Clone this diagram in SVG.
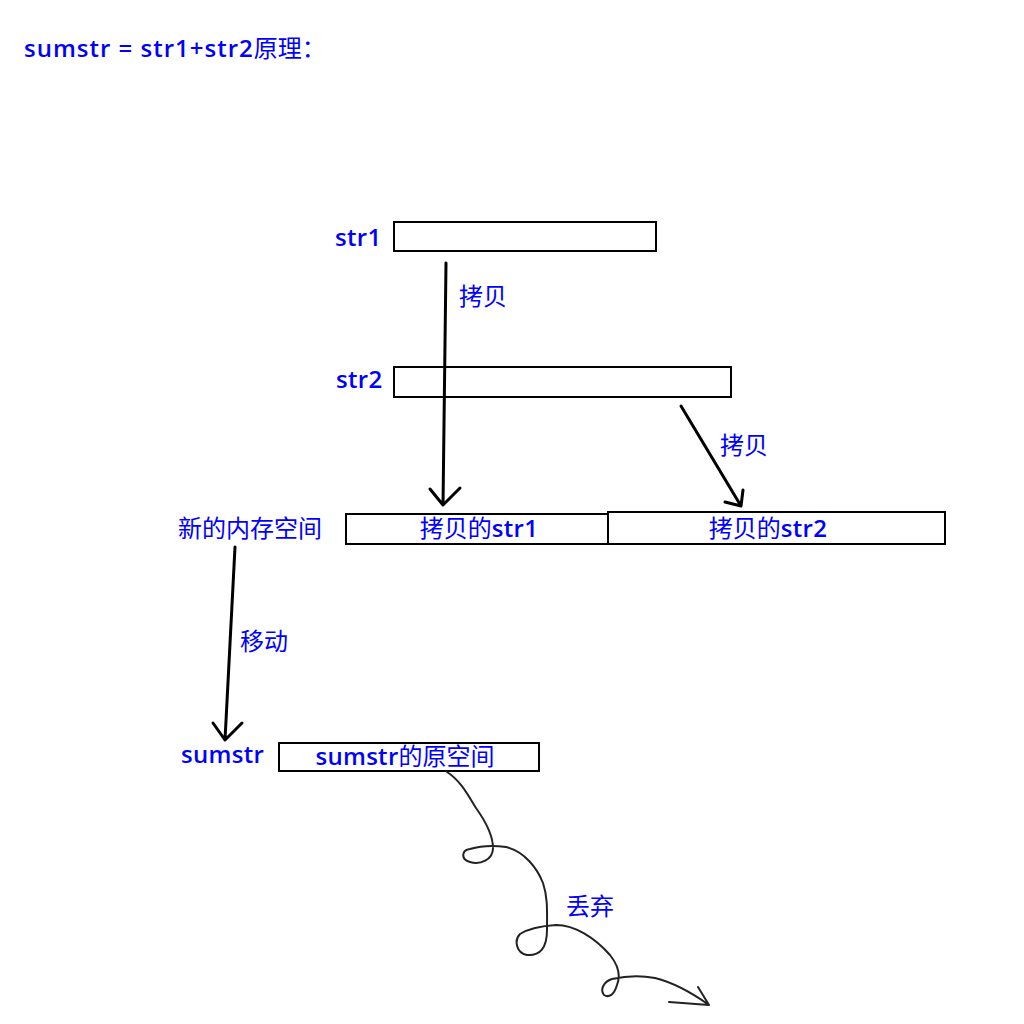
<svg xmlns="http://www.w3.org/2000/svg" width="1024" height="1024" viewBox="0 0 1024 1024">
<style>
text{font-family:"Noto Sans CJK SC",sans-serif;fill:#0000ff;font-size:24px}
.l{font-family:"Open Sans","Noto Sans CJK SC",sans-serif;font-weight:600;font-size:24px;letter-spacing:0.3px}
.box{fill:#fff;stroke:#000;stroke-width:2}
.ln{fill:none;stroke:#000;stroke-width:3;stroke-linecap:round;stroke-linejoin:round}
.curl{fill:none;stroke:#222;stroke-width:2;stroke-linecap:round;stroke-linejoin:round}
</style>
<rect width="1024" height="1024" fill="#fff"/>
<text x="24" y="57" font-size="24"><tspan class="l" style="letter-spacing:1px">sumstr = str1+str2</tspan>原理：</text>
<g id="str1"><text class="l" x="335" y="246">str1</text><rect class="box" x="394" y="222" width="262" height="29"/></g>
<g id="str2"><text class="l" x="336" y="388">str2</text><rect class="box" x="394" y="367" width="337" height="30"/></g>
<g id="newmem"><text x="178" y="537" font-size="26.5">新的内存空间</text>
<rect class="box" x="346" y="514" width="262" height="30"/><text x="479" y="537" text-anchor="middle">拷贝的<tspan class="l">str1</tspan></text>
<rect class="box" x="608" y="512" width="337" height="32"/><text x="768" y="537" text-anchor="middle">拷贝的<tspan class="l">str2</tspan></text></g>
<g id="sumstr"><text class="l" x="181" y="763">sumstr</text><rect class="box" x="279" y="743" width="260" height="28"/><text x="405" y="765" text-anchor="middle"><tspan class="l">sumstr</tspan>的原空间</text></g>
<g id="connectors">
<path class="ln" d="M446 263 L443 505 M430 489 L443 505 L460 488"/>
<text x="459" y="305">拷贝</text>
<path class="ln" d="M681 406 L741 506 M743 490 L741 506 L725 502"/>
<text x="720" y="454">拷贝</text>
<path class="ln" d="M235 547 L225 740 M213 723 L225 740 L242 723"/>
<text x="240" y="650">移动</text>
<path class="curl" d="M447 772 C460 780 468 795 476 808 C486 822 493 835 493 848 C493 860 480 865 470 862 C460 859 462 850 470 849 C480 846 492 845 506 847 C525 852 537 868 543 883 C548 898 547 912 547 930 C547 948 540 956 527 955 C516 953 514 940 520 934 C528 929 540 926 556 925 C575 925 595 938 610 955 C618 965 621 975 617 985 C614 995 609 998 604 995 C600 990 603 982 612 979 C625 976 640 975 655 978 C675 983 695 995 709 1005 M669 1002 L709 1005 L698 987"/>
<text x="566" y="915">丢弃</text>
</g>
</svg>
